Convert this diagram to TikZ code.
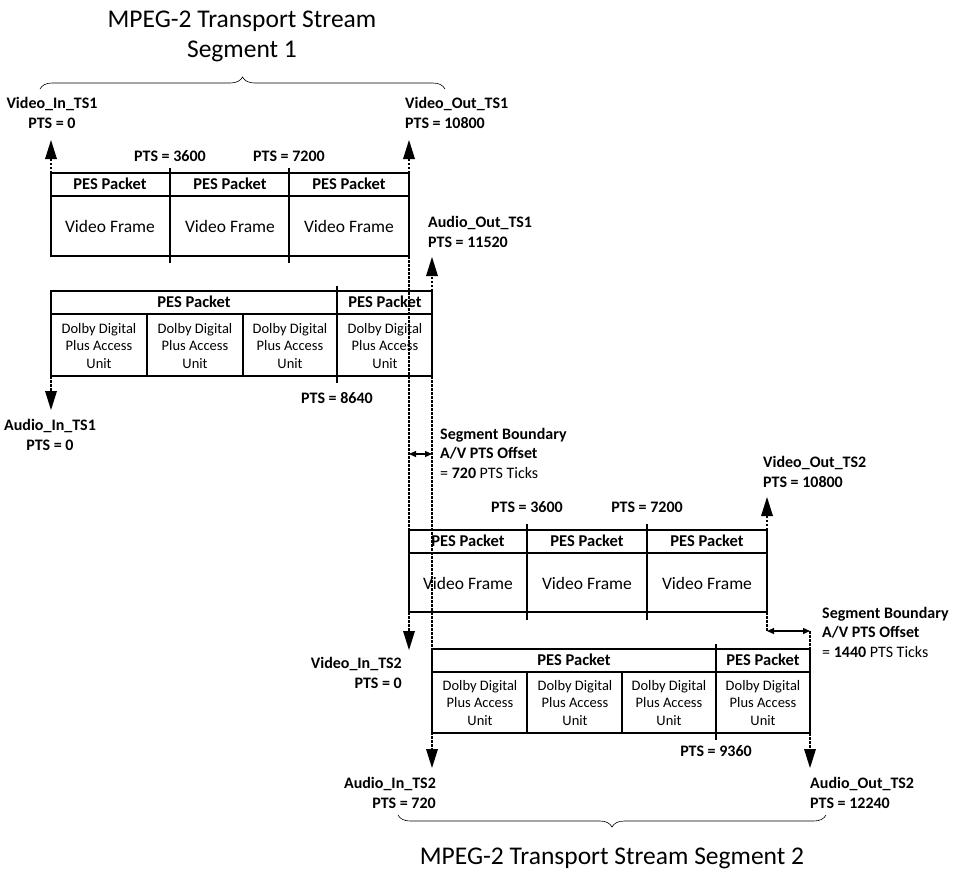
\documentclass[tikz,border=0pt]{standalone}
\usepackage{fontspec}
\setmainfont{Carlito}
\usetikzlibrary{arrows.meta,decorations.pathreplacing,calc}
\newcommand\dasharrow[2]{\draw[dsh] ($(#1)$) -- ($(#2)!15pt!(#1)$);
  \fill ($(#2)!19pt!(#1)+(6,0)$) -- (#2) -- ($(#2)!19pt!(#1)+(-6,0)$) -- cycle;}
\begin{document}
\begin{tikzpicture}[x=1pt,y=-1pt,
  box/.style={line width=1.6pt},
  dv/.style={line width=1.6pt},
  dsh/.style={line width=2pt,dash pattern=on 2.5pt off 1.5pt},
  darr/.style={line width=1.2pt,{Triangle[width=6pt,length=7pt]}-{Triangle[width=6pt,length=7pt]}},
  lbl/.style={font=\fontsize{16}{19.5}\selectfont\bfseries,inner sep=0pt},
  hdr/.style={font=\fontsize{16.5}{19}\selectfont\bfseries,inner sep=0pt},
  txt/.style={font=\fontsize{17.5}{20}\selectfont,inner sep=0pt},
  au/.style={font=\fontsize{14.5}{17.5}\selectfont,align=center,inner sep=0pt},
  ttl/.style={font=\fontsize{25.5}{30}\selectfont,align=center,inner sep=0pt},
  brc/.style={decorate,decoration={brace,amplitude=12pt},line width=0.6pt}]
\useasboundingbox (0,0) rectangle (979,876);
% titles and braces
\node[ttl] (t1) at (242,36) {MPEG-2 Transport Stream\\Segment 1};
\draw[brc] (40,89) -- (445,89);
\node[ttl] (t2) at (612,858) {MPEG-2 Transport Stream Segment 2};
\draw[brc] (826,815) -- (398,815);
% Segment 1 video
\draw[box] (51,173) rectangle (409,256);
\draw[box] (51,196) -- (409,196);
\draw[dv] (170,168) -- (170,263);
\draw[dv] (289,168) -- (289,263);
\node[hdr] (p1) at (110,184) {PES Packet};
\node[hdr] (p2) at (230,184) {PES Packet};
\node[hdr] (p3) at (349,184) {PES Packet};
\node[txt] (v1) at (110,226) {Video Frame};
\node[txt] (v2) at (230,226) {Video Frame};
\node[txt] (v3) at (349,226) {Video Frame};
\node[lbl] (pa) at (170,156) {PTS = 3600};
\node[lbl] (pb) at (289,156) {PTS = 7200};
\coordinate (vi1a) at (51,173); \coordinate (vi1b) at (51,140);
\dasharrow{vi1a}{vi1b}
\coordinate (vo1a) at (409,173); \coordinate (vo1b) at (409,140);
\dasharrow{vo1a}{vo1b}
\node[lbl,align=center] (l1) at (52,113) {Video\_In\_TS1\\PTS = 0};
\node[lbl,anchor=west,align=left] (l2) at (405,113) {Video\_Out\_TS1\\PTS = 10800};
% Segment 1 audio
\draw[box] (51,291) rectangle (432,376);
\draw[box] (51,314) -- (432,314);
\draw[dv] (147,314) -- (147,376);
\draw[dv] (243,314) -- (243,376);
\draw[dv] (337,286) -- (337,383);
\node[hdr] (q1) at (194,302) {PES Packet};
\node[hdr] (q2) at (385,302) {PES Packet};
\node[au] (a1) at (99,346) {Dolby Digital\\Plus Access\\Unit};
\node[au] (a2) at (195,346) {Dolby Digital\\Plus Access\\Unit};
\node[au] (a3) at (290,346) {Dolby Digital\\Plus Access\\Unit};
\node[au] (a4) at (385,346) {Dolby Digital\\Plus Access\\Unit};
\node[lbl] (pc) at (337,398) {PTS = 8640};
\coordinate (ai1a) at (51,376); \coordinate (ai1b) at (51,410);
\dasharrow{ai1a}{ai1b}
\coordinate (ao1a) at (432,291); \coordinate (ao1b) at (432,257);
\dasharrow{ao1a}{ao1b}
\node[lbl,align=center] (l3) at (50,435) {Audio\_In\_TS1\\PTS = 0};
\node[lbl,anchor=west,align=left] (l4) at (428,232) {Audio\_Out\_TS1\\PTS = 11520};
% long dashed lines from segment 1 to segment 2
\coordinate (vd1) at (409,256); \coordinate (vd2) at (409,650);
\dasharrow{vd1}{vd2}
\coordinate (ad1) at (432,376); \coordinate (ad2) at (432,768);
\dasharrow{ad1}{ad2}
\coordinate (b1) at (409,454); \coordinate (b2) at (432,454);
\draw[darr] (b1) -- (b2);
\node[lbl,anchor=west,align=left] (s1) at (440,453) {Segment Boundary\\A/V PTS Offset\\\mdseries{}= \textbf{720} PTS Ticks};
% Segment 2 video
\draw[box] (409,530) rectangle (767,612);
\draw[box] (409,553) -- (767,553);
\draw[dv] (527,524) -- (527,620);
\draw[dv] (647,524) -- (647,620);
\node[hdr] (r1) at (468,541) {PES Packet};
\node[hdr] (r2) at (587,541) {PES Packet};
\node[hdr] (r3) at (707,541) {PES Packet};
\node[txt] (w1) at (468,583) {Video Frame};
\node[txt] (w2) at (587,583) {Video Frame};
\node[txt] (w3) at (707,583) {Video Frame};
\node[lbl] (pd) at (527,507) {PTS = 3600};
\node[lbl] (pe) at (647,507) {PTS = 7200};
\coordinate (vo2a) at (767,530); \coordinate (vo2b) at (767,497);
\dasharrow{vo2a}{vo2b}
\node[lbl,anchor=west,align=left] (l5) at (763,472) {Video\_Out\_TS2\\PTS = 10800};
\node[lbl,anchor=east,align=right] (l6) at (402,673) {Video\_In\_TS2\\PTS = 0};
\coordinate (vs1) at (767,612); \coordinate (vs2) at (767,631); \coordinate (vs3) at (810,631);
\draw[dsh] (vs1) -- (vs2);
\draw[darr] (vs2) -- (vs3);
\draw[dsh] (vs3) -- (810,649);
\node[lbl,anchor=west,align=left] (s2) at (822,632) {Segment Boundary\\A/V PTS Offset\\\mdseries{}= \textbf{1440} PTS Ticks};
% Segment 2 audio
\draw[box] (432,649) rectangle (810,733);
\draw[box] (432,672) -- (810,672);
\draw[dv] (527,672) -- (527,733);
\draw[dv] (622,672) -- (622,733);
\draw[dv] (716,644) -- (716,740);
\node[hdr] (u1) at (574,660) {PES Packet};
\node[hdr] (u2) at (763,660) {PES Packet};
\node[au] (c1) at (480,703) {Dolby Digital\\Plus Access\\Unit};
\node[au] (c2) at (575,703) {Dolby Digital\\Plus Access\\Unit};
\node[au] (c3) at (669,703) {Dolby Digital\\Plus Access\\Unit};
\node[au] (c4) at (763,703) {Dolby Digital\\Plus Access\\Unit};
\node[lbl] (pf) at (716,751) {PTS = 9360};
\coordinate (ao2a) at (810,733); \coordinate (ao2b) at (810,768);
\dasharrow{ao2a}{ao2b}
\node[lbl,anchor=east,align=right] (l7) at (436,793) {Audio\_In\_TS2\\PTS = 720};
\node[lbl,anchor=west,align=left] (l8) at (810,793) {Audio\_Out\_TS2\\PTS = 12240};
\end{tikzpicture}
\end{document}
